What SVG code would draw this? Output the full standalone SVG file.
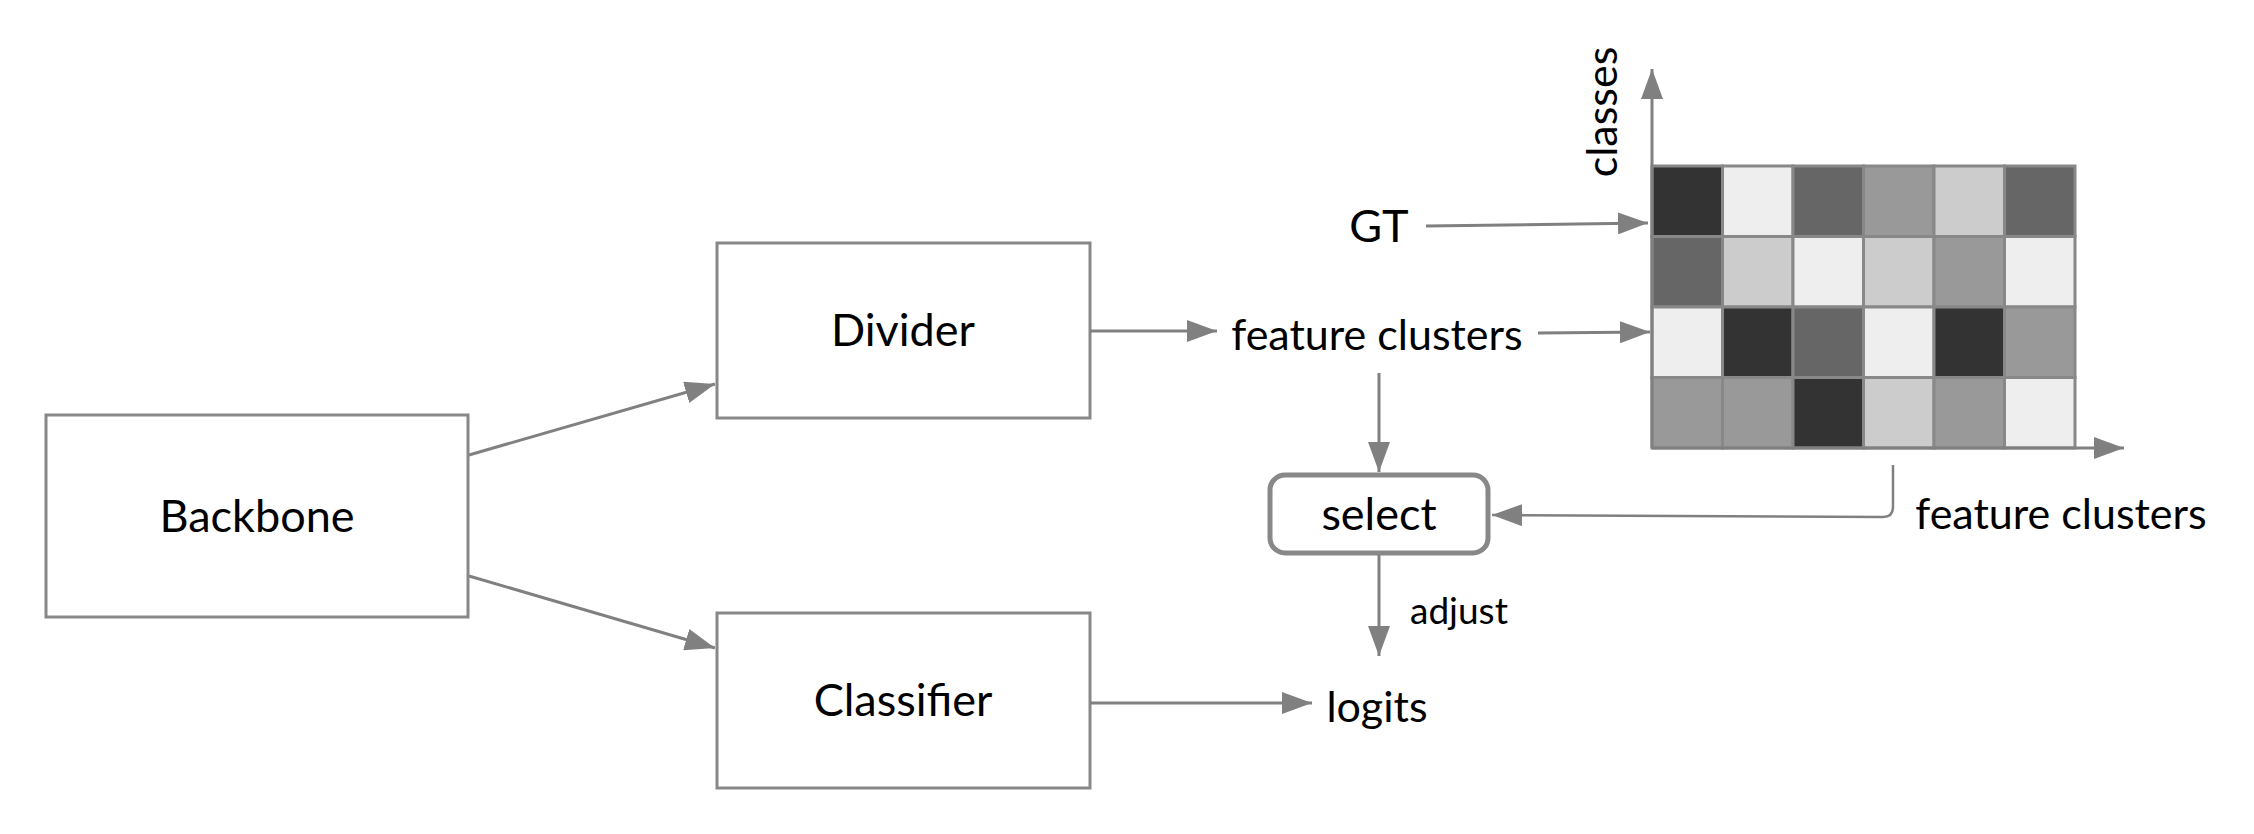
<svg xmlns="http://www.w3.org/2000/svg" width="2254" height="834" viewBox="0 0 2254 834">
<defs>
<marker id="ah" viewBox="0 0 30 22" refX="30" refY="11" markerWidth="30" markerHeight="22" markerUnits="userSpaceOnUse" orient="auto">
<path d="M0,0 L30,11 L0,22 Z" fill="#808080"/>
</marker>
</defs>
<style>
.box{fill:#fff;stroke:#888;stroke-width:3}
.sel{fill:#fff;stroke:#888;stroke-width:5}
.lbl{font-family:Lato,"Liberation Sans",sans-serif;font-size:43px;fill:#000;text-anchor:middle}
.big{font-size:45px}
.sm{font-family:Lato,"Liberation Sans",sans-serif;font-size:37px;fill:#000}
.con{fill:none;stroke:#808080;stroke-width:3;marker-end:url(#ah)}
.thin{fill:none;stroke:#808080;stroke-width:2.5;marker-end:url(#ah)}
.cell{stroke:#888;stroke-width:3}
.c1{fill:#333}.c2{fill:#666}.c3{fill:#999}.c4{fill:#ccc}.c5{fill:#eee}
</style>
<rect width="2254" height="834" fill="#fff"/>
<g id="backbone"><rect class="box" x="46" y="415" width="422" height="202"/><text class="lbl big" x="257" y="532">Backbone</text></g>
<g id="divider"><rect class="box" x="717" y="243" width="373" height="175"/><text class="lbl big" x="903" y="346">Divider</text></g>
<g id="classifier"><rect class="box" x="717" y="613" width="373" height="175"/><text class="lbl big" x="903" y="716">Classifier</text></g>
<g id="select"><rect class="sel" x="1270" y="475" width="218" height="78" rx="15" ry="15"/><text class="lbl big" x="1379" y="530">select</text></g>
<g id="gt"><text class="lbl big" x="1379" y="242">GT</text></g>
<g id="fc-mid"><text class="lbl" x="1377" y="350">feature clusters</text></g>
<g id="fc-right"><text class="lbl" x="2061" y="529">feature clusters</text></g>
<g id="logits"><text class="lbl" x="1377" y="722">logits</text></g>
<g id="adjust"><text class="sm" x="1410" y="624">adjust</text></g>
<g id="matrix">
<rect class="cell c1" x="1652" y="166" width="70.5" height="70.5"/>
<rect class="cell c5" x="1722.5" y="166" width="70.5" height="70.5"/>
<rect class="cell c2" x="1793" y="166" width="70.5" height="70.5"/>
<rect class="cell c3" x="1863.5" y="166" width="70.5" height="70.5"/>
<rect class="cell c4" x="1934" y="166" width="70.5" height="70.5"/>
<rect class="cell c2" x="2004.5" y="166" width="70.5" height="70.5"/>
<rect class="cell c2" x="1652" y="236.5" width="70.5" height="70.5"/>
<rect class="cell c4" x="1722.5" y="236.5" width="70.5" height="70.5"/>
<rect class="cell c5" x="1793" y="236.5" width="70.5" height="70.5"/>
<rect class="cell c4" x="1863.5" y="236.5" width="70.5" height="70.5"/>
<rect class="cell c3" x="1934" y="236.5" width="70.5" height="70.5"/>
<rect class="cell c5" x="2004.5" y="236.5" width="70.5" height="70.5"/>
<rect class="cell c5" x="1652" y="307" width="70.5" height="70.5"/>
<rect class="cell c1" x="1722.5" y="307" width="70.5" height="70.5"/>
<rect class="cell c2" x="1793" y="307" width="70.5" height="70.5"/>
<rect class="cell c5" x="1863.5" y="307" width="70.5" height="70.5"/>
<rect class="cell c1" x="1934" y="307" width="70.5" height="70.5"/>
<rect class="cell c3" x="2004.5" y="307" width="70.5" height="70.5"/>
<rect class="cell c3" x="1652" y="377.5" width="70.5" height="70.5"/>
<rect class="cell c3" x="1722.5" y="377.5" width="70.5" height="70.5"/>
<rect class="cell c1" x="1793" y="377.5" width="70.5" height="70.5"/>
<rect class="cell c4" x="1863.5" y="377.5" width="70.5" height="70.5"/>
<rect class="cell c3" x="1934" y="377.5" width="70.5" height="70.5"/>
<rect class="cell c5" x="2004.5" y="377.5" width="70.5" height="70.5"/>
<path class="con" d="M1652,448 V69"/>
<path class="con" d="M1652,448 H2124"/>
<text class="lbl" transform="translate(1617,112) rotate(-90)">classes</text>
</g>
<g id="connectors">
<path class="con" d="M469,455 L715,384"/>
<path class="con" d="M469,576 L715,648"/>
<path class="con" d="M1090,331 H1217"/>
<path class="con" d="M1538,333 L1650,332"/>
<path class="con" d="M1426,226 L1648,223"/>
<path class="con" d="M1379,373 V472"/>
<path class="con" d="M1379,555 V656"/>
<path class="con" d="M1090,703 H1312"/>
<path class="thin" d="M1893,465 V507 Q1893,517 1883,517 L1492,515"/>
</g>
</svg>
